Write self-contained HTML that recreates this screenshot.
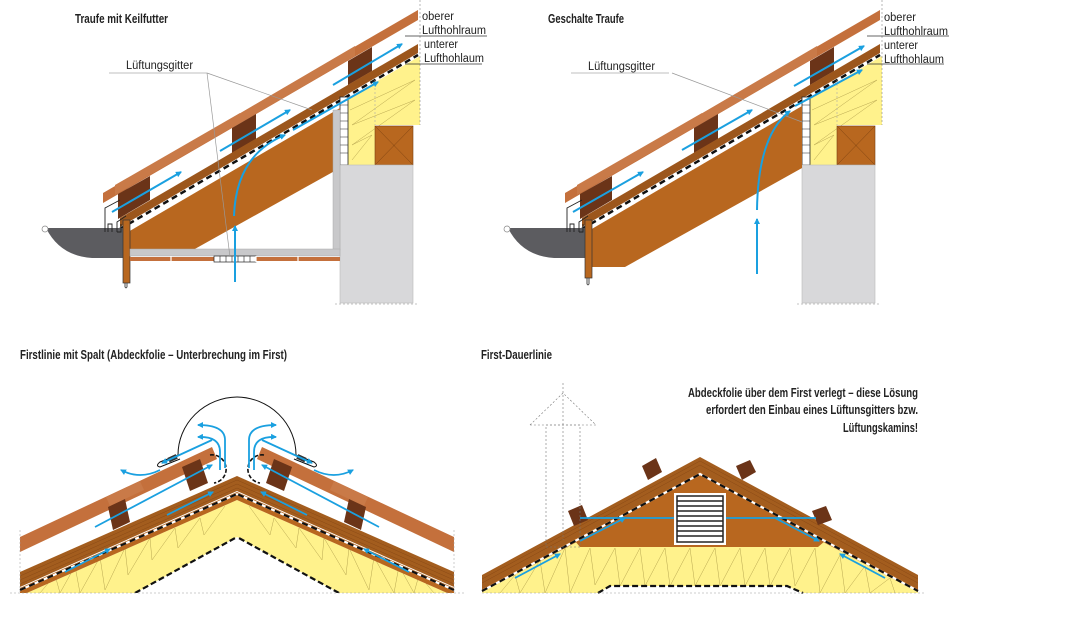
<!DOCTYPE html>
<html><head><meta charset="utf-8"><style>
html,body{margin:0;padding:0;background:#fff;}
svg{display:block;}
.t{font-family:"Liberation Sans Narrow","Liberation Sans",sans-serif;font-weight:bold;font-size:12.5px;fill:#222;}
.l{font-family:"Liberation Sans Narrow","Liberation Sans",sans-serif;font-size:11.5px;fill:#222;}
</style></head><body>
<svg width="1069" height="637" viewBox="0 0 1069 637" xmlns="http://www.w3.org/2000/svg">
<defs>
<marker id="ah" markerWidth="6" markerHeight="6" refX="5" refY="3" orient="auto" markerUnits="userSpaceOnUse"><path d="M0,0 L6,3 L0,6 Z" fill="#1aa0e0"/></marker>
<g id="roofTop">
  <polygon points="103,193 418,10 418,20 103,203" fill="#c4703c"/>
  <polygon points="115,185 240,113 240,123 115,195" fill="#c97a48"/>
  <polygon points="232,118 355,46 355,56 232,128" fill="#c97a48"/>
  <polygon points="118,194 150,176 150,200 118,219" fill="#6b3418"/>
  <polygon points="232,128 256,114 256,139 232,153" fill="#6b3418"/>
  <polygon points="348,61 372,47 372,71 348,85" fill="#6b3418"/>
  <polygon points="120,218 418,44 418,53 120,227" fill="#9c561c"/>
  <line x1="120" y1="229" x2="418" y2="55" stroke="#fff" stroke-width="2.5"/>
  <line x1="120" y1="229" x2="418" y2="55" stroke="#111" stroke-width="2.5" stroke-dasharray="6 4"/>
  <polygon points="345,100 420,56 420,125 375,125 375,165 345,165" fill="#fff28c"/>
  <polyline points="350,110 415,80 352,125 415,100 352,145 372,135 352,160" fill="none" stroke="#b8a650" stroke-width="0.5"/>
  <line x1="375" y1="80" x2="375" y2="125" stroke="#aaa" stroke-width="0.6" stroke-dasharray="2 2"/>
  <rect x="375" y="126" width="38" height="39" fill="#b8671f" stroke="#7a4010" stroke-width="0.6"/>
  <path d="M375,126 L413,165 M413,126 L375,165" stroke="#7a4010" stroke-width="0.5"/>
  <rect x="340" y="97" width="8" height="68" fill="#fff" stroke="#222" stroke-width="0.8"/>
  <path d="M340,105 H348 M340,113 H348 M340,121 H348 M340,129 H348 M340,137 H348 M340,145 H348 M340,153 H348" stroke="#222" stroke-width="0.6"/>
  <rect x="340" y="165" width="73" height="138" fill="#d8d8da" stroke="#bbb" stroke-width="0.6"/>
  <line x1="420" y1="0" x2="420" y2="125" stroke="#888" stroke-width="0.6" stroke-dasharray="2 2"/>
  <line x1="335" y1="304" x2="418" y2="304" stroke="#888" stroke-width="0.6" stroke-dasharray="2 2"/>
  <path d="M46,228 H124 V258 H92 Q60,256 46,228 Z" fill="#5c5c60"/>
  <circle cx="45" cy="229" r="3" fill="#fff" stroke="#888" stroke-width="0.7"/>
  <path d="M105,232 V208 L120,200 M108,232 V224 H112 V232 M117,232 V222 L126,216 M117,232 H121 V224" fill="none" stroke="#222" stroke-width="0.9"/>
  <line x1="405" y1="36" x2="487" y2="36" stroke="#333" stroke-width="0.7"/>
  <line x1="405" y1="64" x2="482" y2="64" stroke="#333" stroke-width="0.7"/>
  <line x1="109" y1="73" x2="207" y2="73" stroke="#aaa" stroke-width="0.8"/>
</g>
</defs>

<!-- Panel 1 -->
<use href="#roofTop"/>
<polygon points="128,232 340,108 340,168 193,250 128,250" fill="#b8671f"/>
<rect x="333" y="110" width="7" height="140" fill="#c8c8ca" stroke="#aaa" stroke-width="0.5"/>
<rect x="123" y="220" width="7" height="63" fill="#b8671f" stroke="#333" stroke-width="0.7"/>
<path d="M125,283 V287 Q126,289 127,287 V283" fill="none" stroke="#222" stroke-width="0.8"/>
<rect x="130" y="249" width="210" height="7" fill="#c8c8ca" stroke="#aaa" stroke-width="0.5"/>
<rect x="130" y="257" width="210" height="4" fill="#c4703c"/>
<rect x="214" y="256" width="42" height="6" fill="#fff" stroke="#222" stroke-width="0.7"/>
<path d="M220,256 V262 M226,256 V262 M232,256 V262 M238,256 V262 M244,256 V262 M250,256 V262" stroke="#222" stroke-width="0.6"/>
<path d="M171,256 V262 M256,256 V262 M298,256 V262" stroke="#fff" stroke-width="1.2"/>
<line x1="207" y1="73" x2="230" y2="257" stroke="#999" stroke-width="0.7"/>
<line x1="207" y1="73" x2="312" y2="110" stroke="#999" stroke-width="0.7"/>
<g stroke="#1aa0e0" stroke-width="2" fill="none" marker-end="url(#ah)">
<line x1="112" y1="212" x2="181" y2="172"/>
<line x1="220" y1="151" x2="290" y2="110"/>
<line x1="333" y1="85" x2="402" y2="44"/>
<line x1="235" y1="282" x2="235" y2="226"/>
<path d="M234,216 Q236,155 285,135"/>
<line x1="293" y1="130" x2="378" y2="82"/>
</g>
<text class="t" x="75" y="23" textLength="93" lengthAdjust="spacingAndGlyphs">Traufe mit Keilfutter</text>
<text class="l" x="126" y="69" textLength="67" lengthAdjust="spacingAndGlyphs">Lüftungsgitter</text>
<text class="l" x="422" y="20" textLength="32" lengthAdjust="spacingAndGlyphs">oberer</text>
<text class="l" x="422" y="34" textLength="64" lengthAdjust="spacingAndGlyphs">Lufthohlraum</text>
<text class="l" x="424" y="48" textLength="34" lengthAdjust="spacingAndGlyphs">unterer</text>
<text class="l" x="424" y="62" textLength="60" lengthAdjust="spacingAndGlyphs">Lufthohlaum</text>

<!-- Panel 2 -->
<use href="#roofTop" x="462"/>
<polygon points="590,230 802,106 802,168 625,267 590,267" fill="#b8671f"/>
<rect x="585" y="220" width="7" height="58" fill="#b8671f" stroke="#333" stroke-width="0.7"/>
<path d="M587,278 V284 Q588,286 589,284 V278" fill="none" stroke="#222" stroke-width="0.8"/>
<line x1="672" y1="73" x2="802" y2="122" stroke="#999" stroke-width="0.7"/>
<g stroke="#1aa0e0" stroke-width="2" fill="none" marker-end="url(#ah)">
<line x1="573" y1="212" x2="643" y2="172"/>
<line x1="682" y1="150" x2="752" y2="110"/>
<line x1="794" y1="86" x2="864" y2="46"/>
<line x1="757" y1="274" x2="757" y2="219"/>
<path d="M757,210 Q758,135 790,111"/>
<line x1="795" y1="106" x2="862" y2="70"/>
</g>
<text class="t" x="548" y="23" textLength="76" lengthAdjust="spacingAndGlyphs">Geschalte Traufe</text>
<text class="l" x="588" y="70" textLength="67" lengthAdjust="spacingAndGlyphs">Lüftungsgitter</text>
<text class="l" x="884" y="21" textLength="32" lengthAdjust="spacingAndGlyphs">oberer</text>
<text class="l" x="884" y="35" textLength="64" lengthAdjust="spacingAndGlyphs">Lufthohlraum</text>
<text class="l" x="884" y="49" textLength="34" lengthAdjust="spacingAndGlyphs">unterer</text>
<text class="l" x="884" y="63" textLength="60" lengthAdjust="spacingAndGlyphs">Lufthohlaum</text>

<!-- Panel 3 -->
<text class="t" x="20" y="359" textLength="267" lengthAdjust="spacingAndGlyphs">Firstlinie mit Spalt (Abdeckfolie – Unterbrechung im First)</text>
<clipPath id="c3"><rect x="0" y="380" width="480" height="213"/></clipPath>
<g id="halfA" clip-path="url(#c3)">
  <polygon points="20,596 237,500 237,537 135,593 20,593" fill="#fff28c"/>
  <polyline points="40,593 55,575 60,593 75,566 80,593 100,557 105,590 125,548 128,575 150,538 152,560 175,528 178,548 200,518 204,535 225,506" fill="none" stroke="#b8a650" stroke-width="0.5"/>
  <polygon points="20,588 237,492 237,500 20,596" fill="#b8671f"/>
  <polygon points="20,572 237,476 237,491 20,587" fill="#a35d1e"/>
  <path d="M20,576 L237,480 M20,580 L237,484 M20,584 L237,488" stroke="#8a4a16" stroke-width="0.5"/>
  <line x1="20" y1="590" x2="237" y2="494" stroke="#fff" stroke-width="2.2"/>
  <line x1="20" y1="590" x2="237" y2="494" stroke="#111" stroke-width="2.2" stroke-dasharray="6 4"/>
  <line x1="135" y1="593" x2="237" y2="537" stroke="#111" stroke-width="2.2" stroke-dasharray="6 3"/>
  <polygon points="20,537 212,447 217,459 20,552" fill="#c4703c"/>
  <polygon points="106,497 140,481 144,490 110,506" fill="#c97a48"/>
  <polygon points="108,507 125,499 130,522 113,530" fill="#6b3418"/>
  <polygon points="182,467 200,459 208,483 190,491" fill="#6b3418"/>
  <path d="M210,455 A13,13 0 1 1 214,483" fill="none" stroke="#111" stroke-width="1.6" stroke-dasharray="4 2"/>
  <path d="M178,455 A60,58 0 0 1 237,397" fill="none" stroke="#111" stroke-width="1"/>
  <path d="M178,455 L160,462 Q155,466 160,467 L180,459" fill="none" stroke="#111" stroke-width="1"/>
  <rect x="168" y="456" width="9" height="5" fill="#333" transform="rotate(-25 172 458)"/>
  <g stroke="#1aa0e0" stroke-width="1.8" fill="none" marker-end="url(#ah)">
    <line x1="65" y1="572" x2="110" y2="549"/>
    <line x1="95" y1="527" x2="212" y2="465"/>
    <line x1="167" y1="515" x2="213" y2="492"/>
    <path d="M220,470 V452 Q220,436 198,437"/>
    <path d="M225,468 V440 Q225,425 198,425"/>
    <line x1="212" y1="440" x2="162" y2="463"/>
    <path d="M160,470 Q140,480 121,470"/>
  </g>
  <line x1="20" y1="530" x2="20" y2="593" stroke="#999" stroke-width="0.5" stroke-dasharray="2 2"/>
</g>
<use href="#halfA" transform="translate(474,0) scale(-1,1)"/>
<line x1="10" y1="593" x2="465" y2="593" stroke="#999" stroke-width="0.5" stroke-dasharray="2 2"/>

<!-- Panel 4 -->
<text class="t" x="481" y="359" textLength="71" lengthAdjust="spacingAndGlyphs">First-Dauerlinie</text>
<polygon points="482,593 482,589 700,474 918,589 918,593 803,593 787,586 610,586 598,593" fill="#fff28c"/>
<polyline points="500,593 515,575 520,593 540,560 545,593 565,548 570,593 590,548 595,585 615,548 620,586 640,548 645,586 665,548 670,586 690,548 695,586 715,548 720,586 740,548 745,586 765,548 770,586 790,548 795,586 815,548 820,593 840,555 845,593 865,566 870,593 890,578 895,593" fill="none" stroke="#b8a650" stroke-width="0.5"/>
<polygon points="700,473 575,541 580,547 818,547 825,541" fill="#b8671f"/>
<polygon points="482,584 700,469 918,584 918,592 700,477 482,592" fill="#b8671f"/>
<polygon points="482,575 700,457 918,575 918,589 700,472 482,589" fill="#a35d1e"/>
<path d="M482,579 L700,461 L918,579 M482,583 L700,465 L918,583" fill="none" stroke="#8a4a16" stroke-width="0.5"/>
<polyline points="482,591 700,474 918,591" fill="none" stroke="#fff" stroke-width="2.2"/>
<polyline points="482,591 700,474 918,591" fill="none" stroke="#111" stroke-width="2.2" stroke-dasharray="6 4"/>
<polyline points="598,593 610,586 787,586 803,593" fill="none" stroke="#111" stroke-width="2.2" stroke-dasharray="6 3"/>
<line x1="482" y1="593" x2="925" y2="593" stroke="#999" stroke-width="0.5" stroke-dasharray="2 2"/>
<g fill="#6b3418">
<polygon points="642,466 656,458 662,472 648,480"/>
<polygon points="736,466 750,460 756,472 742,480"/>
<polygon points="568,511 582,505 588,520 574,526"/>
<polygon points="812,511 826,506 832,520 818,525"/>
</g>
<rect x="674" y="493" width="52" height="52" fill="#fff"/>
<rect x="677" y="496" width="46" height="46" fill="#fff" stroke="#222" stroke-width="1.5"/>
<path d="M677,501 H723 M677,506 H723 M677,511 H723 M677,516 H723 M677,521 H723 M677,526 H723 M677,531 H723 M677,536 H723" stroke="#222" stroke-width="1.6"/>
<g stroke="#1aa0e0" stroke-width="1.8" fill="none">
<line x1="580" y1="518" x2="674" y2="518"/>
<line x1="726" y1="518" x2="816" y2="518"/>
<line x1="580" y1="541" x2="625" y2="518" marker-end="url(#ah)"/>
<line x1="775" y1="518" x2="819" y2="541" marker-end="url(#ah)"/>
<line x1="515" y1="578" x2="560" y2="554" marker-end="url(#ah)"/>
<line x1="885" y1="578" x2="840" y2="554" marker-end="url(#ah)"/>
</g>
<g fill="none" stroke="#777" stroke-width="0.6" stroke-dasharray="2 2">
<polyline points="530,425 563,393 596,425 530,425"/>
<rect x="546" y="425" width="34" height="122"/>
<line x1="563" y1="383" x2="563" y2="540"/>
</g>
<text class="t" x="688" y="397" textLength="230" lengthAdjust="spacingAndGlyphs">Abdeckfolie über dem First verlegt – diese Lösung</text>
<text class="t" x="706" y="414" textLength="212" lengthAdjust="spacingAndGlyphs">erfordert den Einbau eines Lüftunsgitters bzw.</text>
<text class="t" x="843" y="432" textLength="75" lengthAdjust="spacingAndGlyphs">Lüftungskamins!</text>
</svg>
</body></html>
